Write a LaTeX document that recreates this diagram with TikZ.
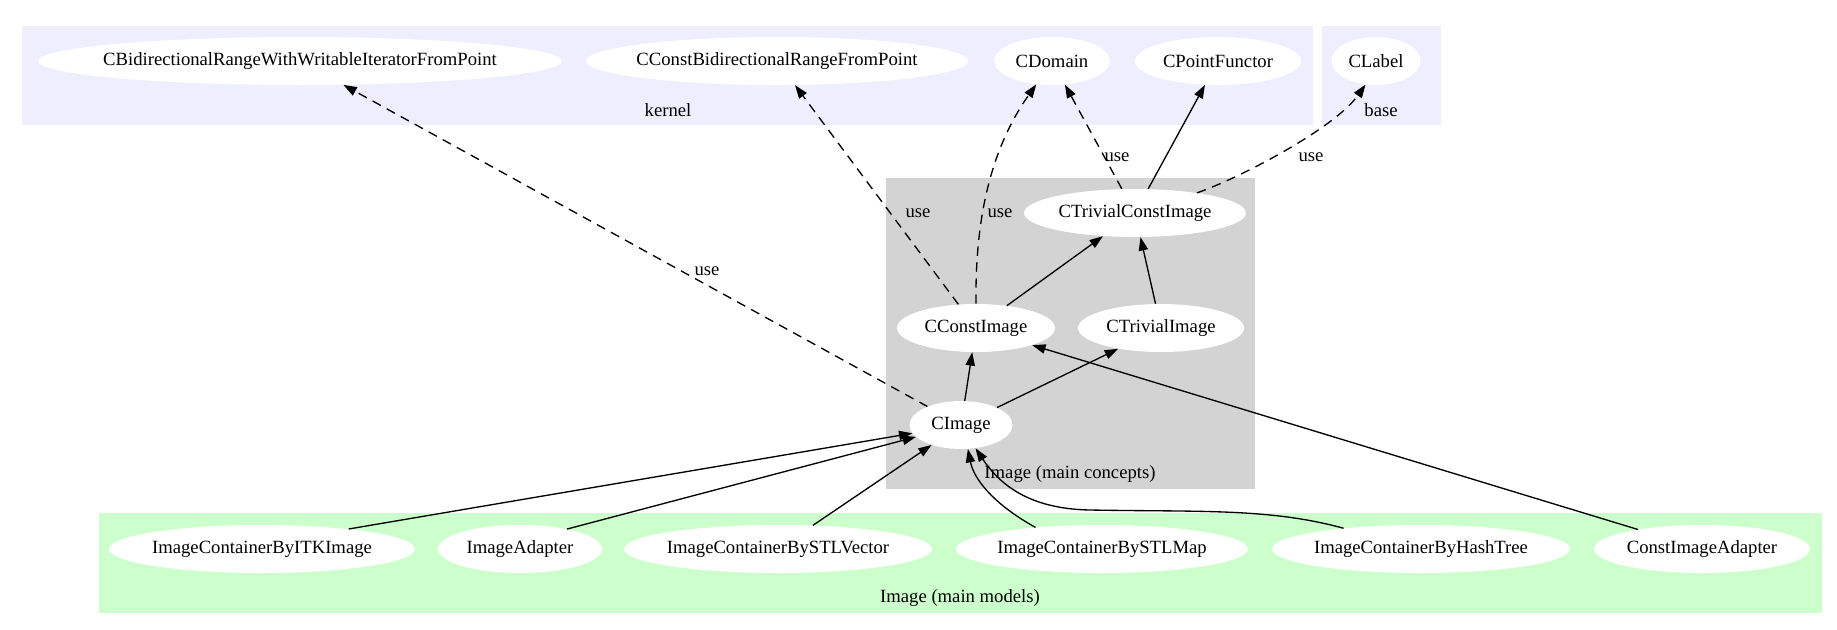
\documentclass[tikz,border=0pt]{standalone}
\usepackage{fontspec}
\setmainfont{Liberation Serif}
\usepackage{tikz}
\usetikzlibrary{arrows.meta, shapes.geometric}
\definecolor{kernelbg}{HTML}{EEEEFF}
\definecolor{conceptbg}{HTML}{D3D3D3}
\definecolor{modelbg}{HTML}{CCFFCC}

\begin{document}
\begin{tikzpicture}[x=0.75pt, y=-0.75pt,
  every node/.style={font=\fontsize{14}{16}\selectfont},
  cls/.style={ellipse, fill=white, inner xsep=-300pt, inner ysep=-50pt, minimum height=36pt, minimum width=#1},
  isa/.style={line width=1pt, -{Triangle[length=10pt,width=7pt]}},
  dep/.style={isa, dash pattern=on 7pt off 5pt}]
\useasboundingbox[fill=white] (0,0) rectangle (1837,629);
\fill[kernelbg] (22,26) rectangle (1313,125); %kernel
\fill[kernelbg] (1322,26) rectangle (1441,125); %base
\fill[conceptbg] (886,178) rectangle (1255,489); %main concepts
\fill[modelbg] (99,513) rectangle (1822,613); %main models
\node (kernellbl) at (668,110) {kernel};
\node (baselbl) at (1381,110) {base};
\node (conceptlbl) at (1070,474) {Image (main concepts)};
\node (modellbl) at (960,598) {Image (main models)};

\node[cls=393pt] (bidir) at (300,61) {CBidirectionalRangeWithWritableIteratorFromPoint};
\node[cls=286.5pt] (cbidir) at (777,61) {CConstBidirectionalRangeFromPoint};
\node[cls=87pt] (domain) at (1052,61) {CDomain};
\node[cls=124.5pt] (pfunctor) at (1218,61) {CPointFunctor};
\node[cls=66.75pt] (clabel) at (1376,61) {CLabel};
\node[cls=166.5pt] (tconst) at (1135,213) {CTrivialConstImage};
\node[cls=118.5pt] (cconst) at (976,328) {CConstImage};
\node[cls=124.5pt] (trivial) at (1161,328) {CTrivialImage};
\node[cls=77.25pt] (cimage) at (961,425) {CImage};
\node[cls=229.5pt] (itk) at (262,549) {ImageContainerByITKImage};
\node[cls=123pt] (adapter) at (520,549) {ImageAdapter};
\node[cls=231pt] (stlvec) at (778,549) {ImageContainerBySTLVector};
\node[cls=219pt] (stlmap) at (1102,549) {ImageContainerBySTLMap};
\node[cls=223.5pt] (hashtree) at (1421,549) {ImageContainerByHashTree};
\node[cls=162pt] (cadapter) at (1702,549) {ConstImageAdapter};

\draw[dep] (cimage) -- (bidir);
\draw[dep] (cconst) -- (cbidir);
\draw[dep] (cconst.north) .. controls (975,220) and (990,150) .. (domain.236);
\draw[isa] (cconst) -- (tconst);
\draw[isa] (trivial) -- (tconst);
\draw[dep] (tconst) -- (domain);
\draw[isa] (tconst) -- (pfunctor);
\draw[dep] (tconst.18) .. controls (1240,178) and (1335,128) .. (clabel.246);
\draw[isa] (cimage) -- (cconst);
\draw[isa] (cimage) -- (trivial);
\draw[isa] (itk.13) -- (cimage);
\draw[isa] (adapter.23) -- (cimage);
\draw[isa] (stlvec) -- (cimage);
\draw[isa] (stlmap.162) .. controls (995,505) and (974,480) .. (cimage.286);
\draw[isa] (hashtree.165) .. controls (1270,508) and (1200,512) .. (1090,510) .. controls (1030,509) and (1000,485) .. (cimage.302);
\draw[isa] (cadapter) -- (cconst);
\node (use1) at (707,271) {use};
\node (use2) at (918,213) {use};
\node (use3) at (1000,213) {use};
\node (use4) at (1117,157) {use};
\node (use5) at (1311,157) {use};
\end{tikzpicture}
\end{document}
